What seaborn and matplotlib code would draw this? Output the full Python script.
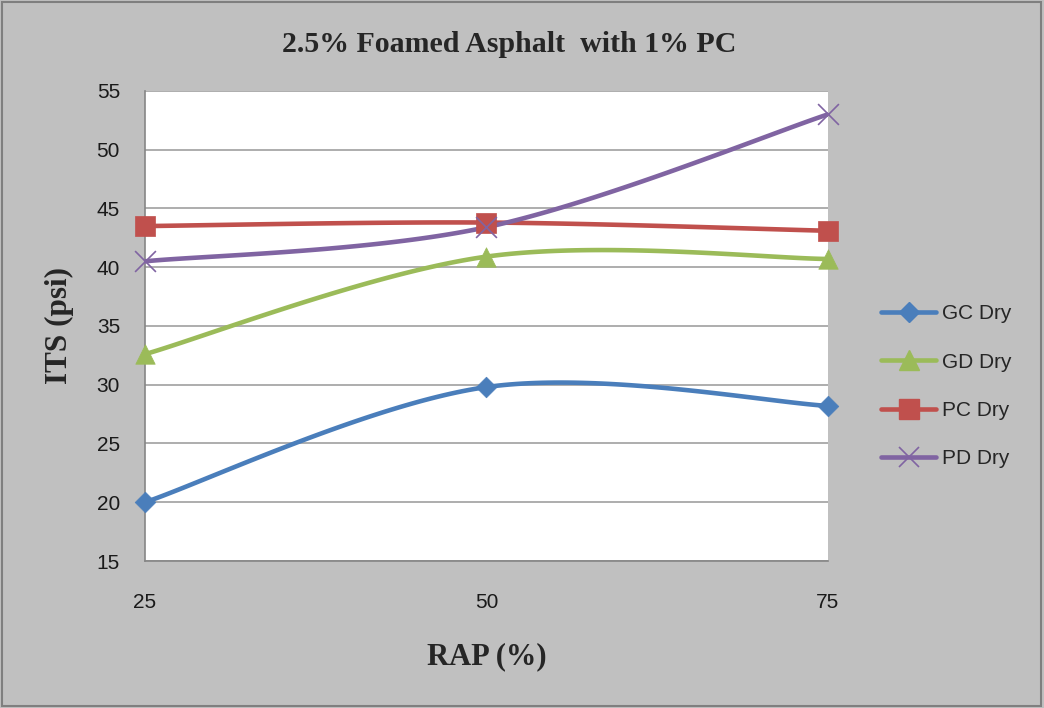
import numpy as np
import pandas as pd
import matplotlib
matplotlib.use("Agg")
import matplotlib.pyplot as plt
from matplotlib.lines import Line2D
from matplotlib.patches import Rectangle
import seaborn as sns

rap = [25, 50, 75]
gc_dry = [20.0, 29.8, 28.2]
gd_dry = [32.6, 40.9, 40.7]
pc_dry = [43.5, 43.8, 43.1]
pd_dry = [40.5, 43.4, 53.0]
series_names = ["GC Dry", "GD Dry", "PC Dry", "PD Dry"]
y_ticks = [15, 20, 25, 30, 35, 40, 45, 50, 55]

colors = ["#4A7EBB", "#9BBB59", "#C0504D", "#8064A2"]
markers = ["D", "^", "s", "x"]
msizes = [10.5, 14, 14.5, 15]


def smooth(xs, ys, n=60):
    # Excel-style smoothed line (Catmull-Rom Bezier), for drawing only
    x = np.asarray(xs, float)
    y = np.asarray(ys, float)
    px = np.concatenate([[x[0]], x, [x[-1]]])
    py = np.concatenate([[y[0]], y, [y[-1]]])
    ox, oy = [], []
    for i in range(1, len(px) - 2):
        p0 = np.array([px[i - 1], py[i - 1]])
        p1 = np.array([px[i], py[i]])
        p2 = np.array([px[i + 1], py[i + 1]])
        p3 = np.array([px[i + 2], py[i + 2]])
        c1 = p1 + (p2 - p0) / 6.0
        c2 = p2 - (p3 - p1) / 6.0
        t = np.linspace(0, 1, n)[:, None]
        b = ((1 - t) ** 3) * p1 + 3 * ((1 - t) ** 2) * t * c1 + 3 * (1 - t) * t ** 2 * c2 + t ** 3 * p2
        ox.extend(b[:, 0])
        oy.extend(b[:, 1])
    return ox, oy


sns.set_style("white")
plt.rcParams["font.family"] = ["Liberation Sans", "DejaVu Sans"]

fig = plt.figure(figsize=(10.44, 7.08), dpi=100)
fig.patch.set_facecolor("#C0C0C0")
fig.patches.append(Rectangle((0.002, 0.003), 0.995, 0.994, transform=fig.transFigure,
                             fill=False, edgecolor="#7F7F7F", linewidth=1.5))

ax = fig.add_axes([0.1389, 0.2076, 0.654, 0.664])
ax.set_facecolor("white")

all_vals = [gc_dry, gd_dry, pc_dry, pd_dry]
for name, vals, c, m, ms in zip(series_names, all_vals, colors, markers, msizes):
    sx, sy = smooth(rap, vals)
    sdf = pd.DataFrame({"x": sx, "y": sy})
    sns.lineplot(data=sdf, x="x", y="y", ax=ax, color=c, linewidth=3.3,
                 estimator=None, sort=False, legend=False, zorder=3)
    mdf = pd.DataFrame({"x": rap, "y": vals})
    if m == "x":
        sns.scatterplot(data=mdf, x="x", y="y", ax=ax, color=c, marker="x", s=ms ** 2,
                        linewidth=1.2, legend=False, zorder=4, clip_on=False)
    else:
        sns.scatterplot(data=mdf, x="x", y="y", ax=ax, color=c, marker=m, s=ms ** 2,
                        edgecolor=c, linewidth=0.5, legend=False, zorder=4, clip_on=False)

ax.set_xlim(25, 75)
ax.set_ylim(15, 55)
ax.set_xticks(rap)
ax.set_yticks(y_ticks)
ax.yaxis.grid(True, color="#A0A0A0", linewidth=1.2)
ax.xaxis.grid(False)
for s in ["top", "right"]:
    ax.spines[s].set_visible(False)
for s in ["left", "bottom"]:
    ax.spines[s].set_color("#868686")
    ax.spines[s].set_linewidth(1.2)
ax.tick_params(axis="both", direction="out", length=6, width=1.2, color="#868686",
               labelsize=15, labelcolor="#1A1A1A")
ax.tick_params(axis="y", pad=12)
ax.tick_params(axis="x", pad=17)
ax.set_xlabel("RAP (%)", fontsize=22, fontweight="bold", family="Liberation Serif", labelpad=22)
ax.set_ylabel("ITS (psi)", fontsize=22.5, fontweight="bold", family="Liberation Serif", labelpad=16)

fig.text(0.4875, 0.937, "2.5% Foamed Asphalt  with 1% PC", ha="center", va="center",
         fontsize=21.5, fontweight="bold", family="Liberation Serif")

handles = []
for name, c, m, ms in zip(series_names, colors, markers, msizes):
    if m == "x":
        h = Line2D([], [], color=c, linewidth=3.3, marker="x", markersize=ms,
                   markeredgewidth=1.2, solid_capstyle="round")
    else:
        h = Line2D([], [], color=c, linewidth=3.3, marker=m, markersize=ms,
                   markeredgecolor=c, solid_capstyle="round")
    handles.append(h)
leg = fig.legend(handles, series_names, loc="center left", bbox_to_anchor=(0.844, 0.4545),
                 frameon=False, fontsize=15, handlelength=2.64, labelspacing=1.4,
                 handletextpad=0.3, borderpad=0, borderaxespad=0)

fig.savefig("out.png", dpi=100, facecolor=fig.get_facecolor())
